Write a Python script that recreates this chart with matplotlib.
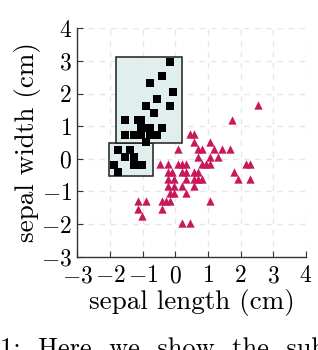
import matplotlib
matplotlib.use("Agg")
import matplotlib.pyplot as plt
from matplotlib.patches import Rectangle

plt.rcParams['font.family'] = 'serif'
plt.rcParams['font.serif'] = ['cmr10']
plt.rcParams['mathtext.fontset'] = 'cm'
plt.rcParams['axes.formatter.use_mathtext'] = True

# cluster of black squares
sq_x = [-0.18, -0.42, -0.79, -0.06, -0.55, -0.91, -0.18, -0.67, -1.53, -1.16,
        -1.04, -1.04, -0.91, -0.79, -0.42, -1.53, -1.28, -1.04, -0.79, -0.55,
        -0.91, -1.76, -1.40, -1.54, -1.27, -1.89, -1.27, -1.03, -1.76]
sq_y = [2.97, 2.53, 2.31, 2.06, 1.84, 1.62, 1.62, 1.40, 1.18, 1.18,
        1.18, 0.95, 0.95, 0.95, 0.95, 0.73, 0.73, 0.73, 0.73, 0.73,
        0.50, 0.28, 0.28, 0.05, 0.05, -0.18, -0.18, -0.18, -0.40]

# the other class (triangles)
tri_x = [2.53, 1.74, 0.44, 0.56, 0.56, 1.06,
         0.08, 0.69, 0.81, 1.18, 1.43, 1.67,
         0.69, 1.06, 1.31,
         -0.47, -0.22, 0.08, 0.20, 0.32, 0.81, 0.94, 1.06, 2.16, 2.29,
         -0.22, -0.10, 0.20, 0.32, 0.57, 0.69, 1.80,
         -0.22, -0.05, 0.32, 0.57, 0.69, 0.81, 1.92, 2.29,
         -0.22, -0.05, 0.20, 0.57,
         -0.17, -0.05, 0.32,
         -1.15, -0.91, -0.41, -0.29, -0.17, 1.06,
         -1.15, -0.41,
         -1.03,
         0.20, 0.45]
tri_y = [1.64, 1.19, 0.75, 0.75, 0.51, 0.51,
         0.29, 0.29, 0.29, 0.29, 0.29, 0.29,
         0.07, 0.07, 0.07,
         -0.16, -0.16, -0.16, -0.16, -0.16, -0.16, -0.16, -0.16, -0.16, -0.16,
         -0.39, -0.39, -0.39, -0.39, -0.39, -0.39, -0.39,
         -0.62, -0.62, -0.62, -0.62, -0.62, -0.62, -0.62, -0.62,
         -0.83, -0.83, -0.83, -0.83,
         -1.06, -1.06, -1.06,
         -1.29, -1.29, -1.29, -1.29, -1.29, -1.28,
         -1.53, -1.53,
         -1.75,
         -1.96, -1.96]

# sub-cluster boxes: (x0, y0, x1, y1)
boxes = [(-2.05, -0.53, -0.68, 0.47),
         (-1.83, 0.47, 0.19, 3.12)]

ticks = [-3, -2, -1, 0, 1, 2, 3, 4]

fig = plt.figure(figsize=(3.18, 3.5), dpi=100)
ax = fig.add_axes([0.2437, 0.2666, 0.7186, 0.6526])

for x0, y0, x1, y1 in boxes:
    ax.add_patch(Rectangle((x0, y0), x1 - x0, y1 - y0, facecolor='#e0efee',
                           edgecolor='#1e1e1e', lw=1.1, zorder=2))

ax.scatter(sq_x, sq_y, marker='s', s=28, c='black', linewidths=0, zorder=3)
ax.scatter(tri_x, tri_y, marker='^', s=36, c='#c8185a', linewidths=0, zorder=3)

ax.set_xlim(-3, 4)
ax.set_ylim(-3, 4)
ax.set_xticks(ticks)
ax.set_yticks(ticks)
ax.grid(True, color='#e6e6e6', linestyle=(0, (4, 4)), lw=1)
ax.set_axisbelow(True)
for s in ['top', 'right']:
    ax.spines[s].set_visible(False)
for s in ['left', 'bottom']:
    ax.spines[s].set_color('#333333')
    ax.spines[s].set_linewidth(1.0)
ax.tick_params(direction='in', length=4, color='#333333', labelsize=17)
ax.tick_params(axis='x', pad=6)
ax.tick_params(axis='y', pad=4)

ax.set_xlabel('sepal length (cm)', fontsize=19.5, labelpad=1)
ax.set_ylabel('sepal width (cm)', fontsize=19.5, labelpad=0)

fig.text(0.0, 0.035, '1:  Here  we  show  the  sub-clusters  classif', fontsize=19,
         va='top', ha='left')

fig.savefig('out.png', dpi=100)
